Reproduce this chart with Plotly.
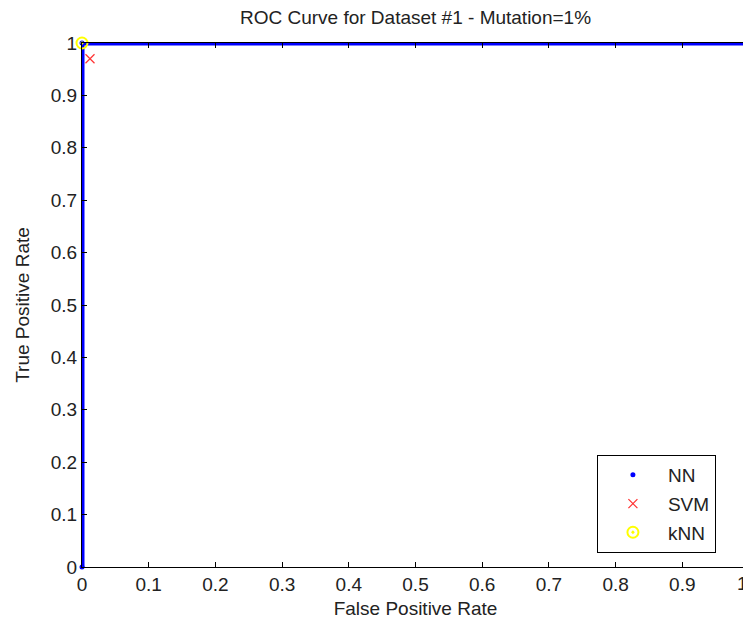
import plotly.graph_objects as go

# ROC data
nn_fpr = [0, 0, 1]
nn_tpr = [0, 1, 1]
svm_fpr = [0.012]
svm_tpr = [0.97]
knn_fpr = [0]
knn_tpr = [1]
ticks = [0, 0.1, 0.2, 0.3, 0.4, 0.5, 0.6, 0.7, 0.8, 0.9, 1]
tick_text = ["0", "0.1", "0.2", "0.3", "0.4", "0.5", "0.6", "0.7", "0.8", "0.9", "1"]

FONT = "Liberation Sans, Arial, sans-serif"
FS = 19

fig = go.Figure()
fig.add_trace(go.Scatter(x=nn_fpr, y=nn_tpr, mode="lines",
                         line=dict(color="#0000ff", width=5),
                         showlegend=False, cliponaxis=False, hoverinfo="skip"))
fig.add_trace(go.Scatter(x=nn_fpr, y=nn_tpr, mode="markers", name="NN",
                         marker=dict(color="#0000ff", size=5, symbol="circle"),
                         cliponaxis=False, legendgroup="a"))
fig.add_trace(go.Scatter(x=svm_fpr, y=svm_tpr, mode="markers", name="SVM",
                         marker=dict(symbol="x-thin", size=9,
                                     line=dict(color="#ff3333", width=1.2)),
                         cliponaxis=False, legendgroup="b"))
fig.add_trace(go.Scatter(x=knn_fpr, y=knn_tpr, mode="markers", name="kNN",
                         marker=dict(symbol="circle-open-dot", size=11, color="#ffff00",
                                     line=dict(color="#ffff00", width=2)),
                         cliponaxis=False, legendgroup="c"))

axis_common = dict(range=[0, 1], tickvals=ticks, ticktext=tick_text,
                   ticks="inside", ticklen=5, tickcolor="black", tickwidth=1,
                   showline=True, linecolor="black", linewidth=1, mirror="ticks",
                   showgrid=False, zeroline=False, automargin=False,
                   tickfont=dict(family=FONT, size=FS, color="#222"))

fig.update_xaxes(**axis_common, title=dict(text="False Positive Rate",
                 font=dict(family=FONT, size=FS, color="#222"), standoff=7))
fig.update_yaxes(**axis_common, title=dict(text="True Positive Rate",
                 font=dict(family=FONT, size=FS, color="#222"), standoff=16))

# last x tick label sits on the page edge; plotly drops it, so show it as text
fig.add_annotation(x=ticks[-1], xref="x", y=0, yref="paper", yshift=-16, xshift=1,
                   text=tick_text[-1], showarrow=False, xanchor="right", yanchor="middle",
                   font=dict(family=FONT, size=FS, color="#222"))

# page body has an 8px margin, so the figure is 8px smaller and margins shifted
fig.update_layout(
    width=743, height=617,
    margin=dict(l=74, r=2, t=35, b=58),
    paper_bgcolor="white", plot_bgcolor="white",
    title=dict(text="ROC Curve for Dataset #1 - Mutation=1%", x=(415.5 - 8) / 743, xanchor="center",
               y=1 - 9 / 617, yanchor="middle",
               font=dict(family=FONT, size=FS, color="#222")),
    legend=dict(x=0.772, y=0.2137, xanchor="left", yanchor="top",
                bgcolor="white", bordercolor="black", borderwidth=1,
                font=dict(family=FONT, size=FS, color="#222"),
                itemwidth=60, tracegroupgap=1),
    showlegend=True,
)

fig.write_html("out.html")
